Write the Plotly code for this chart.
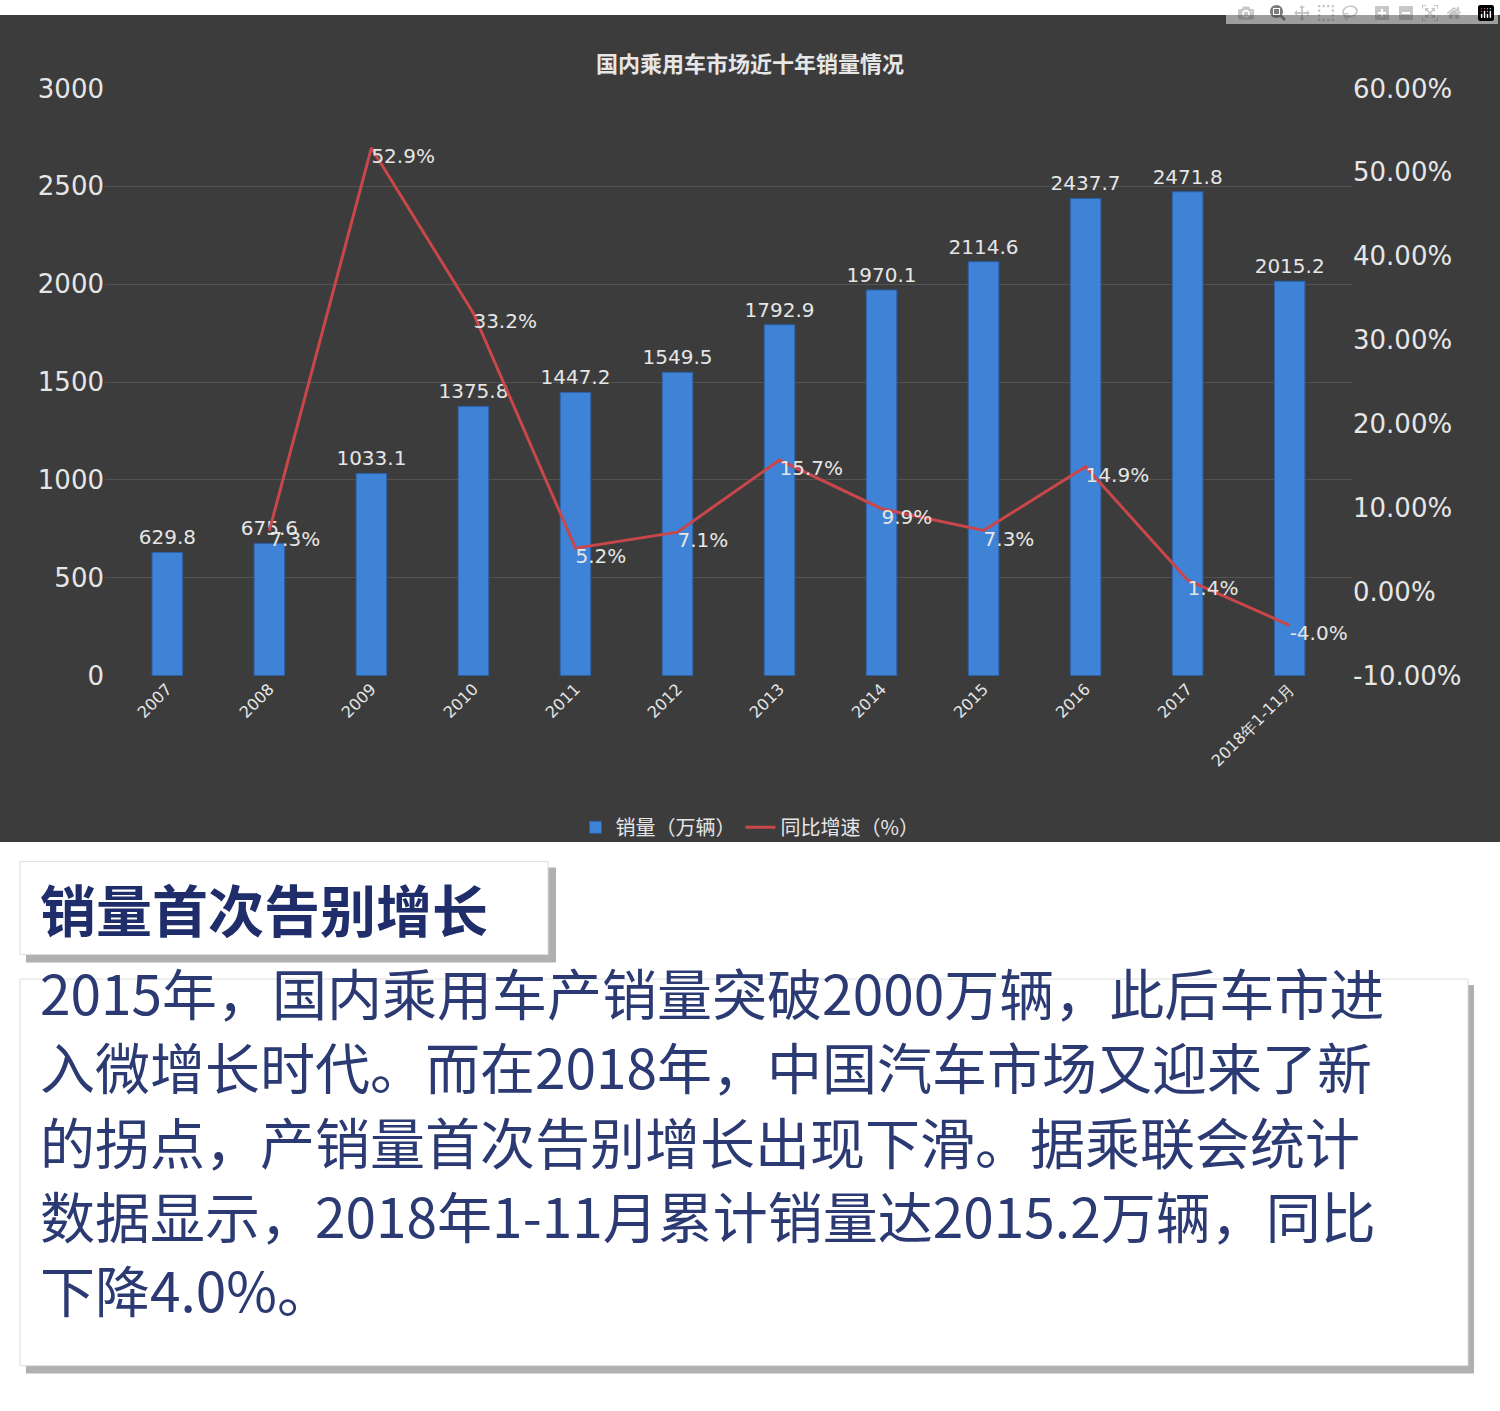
import plotly.graph_objs as go

W, H = 1500, 1411

categories = ['2007', '2008', '2009', '2010', '2011', '2012', '2013', '2014',
              '2015', '2016', '2017', '2018年1-11月']
sales = [629.8, 675.6, 1033.1, 1375.8, 1447.2, 1549.5, 1792.9, 1970.1,
         2114.6, 2437.7, 2471.8, 2015.2]
growth = [None, 7.3, 52.9, 33.2, 5.2, 7.1, 15.7, 9.9, 7.3, 14.9, 1.4, -4.0]
pct_ticks = [-0.1, 0, 0.1, 0.2, 0.3, 0.4, 0.5, 0.6]
pct_labels = ['-10.00%', '0.00%', '10.00%', '20.00%', '30.00%', '40.00%', '50.00%', '60.00%']

heading = '销量首次告别增长'
paragraph = ['2015年，国内乘用车产销量突破2000万辆，此后车市进',
             '入微增长时代。而在2018年，中国汽车市场又迎来了新',
             '的拐点，产销量首次告别增长出现下滑。据乘联会统计',
             '数据显示，2018年1-11月累计销量达2015.2万辆，同比',
             '下降4.0%。']


def px(x):
    return x / W


def py(y):
    return 1 - y / H


light = '#e6e6e6'

bars = go.Bar(
    x=categories, y=sales, name='销量（万辆）', width=0.3,
    marker=dict(color='#3f83d6', line=dict(color='#2a5ea8', width=1)),
    text=[f'{v:.1f}' for v in sales], textposition='outside', constraintext='none',
    textfont=dict(color=light, size=20, family='DejaVu Sans'),
    cliponaxis=False,
)
line = go.Scatter(
    x=categories, y=[g / 100 if g is not None else None for g in growth],
    name='同比增速（%）', yaxis='y2', mode='lines+text',
    line=dict(color='#c9474a', width=3),
    text=[f'{g:.1f}%' if g is not None else '' for g in growth],
    textposition='bottom right',
    textfont=dict(color=light, size=20, family='DejaVu Sans'),
    cliponaxis=False,
)

shapes = [
    dict(type='rect', xref='paper', yref='paper', x0=0, x1=1, y0=py(845), y1=1,
         fillcolor='#3c3c3c', line=dict(width=0), layer='below'),
    dict(type='rect', xref='paper', yref='paper', x0=px(26), x1=px(556), y0=py(968), y1=py(871),
         fillcolor='#b0b0b0', line=dict(width=0)),
    dict(type='rect', xref='paper', yref='paper', x0=px(20), x1=px(548), y0=py(960), y1=py(865),
         fillcolor='white', line=dict(color='#dddddd', width=1)),
    dict(type='rect', xref='paper', yref='paper', x0=px(26), x1=px(1474), y0=py(1388), y1=py(991),
         fillcolor='#b0b0b0', line=dict(width=0)),
    dict(type='rect', xref='paper', yref='paper', x0=px(20), x1=px(1468), y0=py(1380), y1=py(985),
         fillcolor='white', line=dict(color='#dddddd', width=1)),
]

annotations = [
    dict(text='<b>国内乘用车市场近十年销量情况</b>', x=0.5, y=py(30), xref='paper', yref='paper',
         showarrow=False, font=dict(color=light, size=22, family='Noto Sans CJK SC')),
    dict(text='<b>' + heading + '</b>', x=px(38), y=py(912), xref='paper', yref='paper',
         xanchor='left', showarrow=False,
         font=dict(color='#1f2d6b', size=56, family='Noto Sans CJK SC')),
]
for i, t in enumerate(paragraph):
    annotations.append(dict(text=t, x=px(38), y=py(1040 + i * 76), xref='paper', yref='paper',
                            xanchor='left', showarrow=False,
                            font=dict(color='#2b3a72', size=55, family='Noto Sans CJK SC')))

layout = go.Layout(
    width=W, height=H, margin=dict(l=0, r=0, t=0, b=0),
    paper_bgcolor='white', plot_bgcolor='rgba(0,0,0,0)',
    xaxis=dict(domain=[px(105), px(1352)], tickangle=-45, showline=False,
               tickfont=dict(color=light, size=16, family='DejaVu Sans')),
    yaxis=dict(domain=[py(675), py(75)], range=[0, 3000], dtick=500,
               gridcolor='rgba(255,255,255,0.12)', zeroline=False,
               tickfont=dict(color=light, size=26, family='DejaVu Sans')),
    yaxis2=dict(overlaying='y', side='right', range=[-0.1, 0.6],
                tickvals=pct_ticks, ticktext=pct_labels,
                showgrid=False, zeroline=False, anchor='x',
                tickfont=dict(color=light, size=26, family='DejaVu Sans')),
    legend=dict(orientation='h', x=0.5, xanchor='center', y=py(830), yanchor='middle',
                font=dict(color=light, size=20, family='Noto Sans CJK SC'),
                bgcolor='rgba(0,0,0,0)'),
    shapes=shapes, annotations=annotations, showlegend=True,
)

fig = go.Figure(data=[bars, line], layout=layout)
fig.write_html('out.html', post_script="document.body.style.margin='0';")
